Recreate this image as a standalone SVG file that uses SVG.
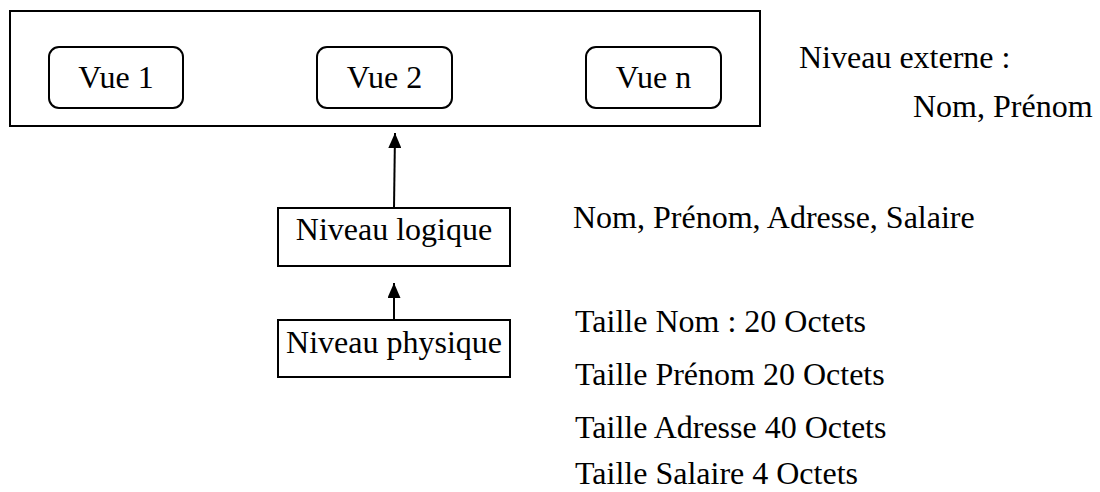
<svg xmlns="http://www.w3.org/2000/svg" width="1100" height="492" viewBox="0 0 1100 492">
<defs>
<marker id="ah" markerWidth="15" markerHeight="13" refX="15" refY="6.5" orient="auto" markerUnits="userSpaceOnUse" viewBox="0 0 15 13">
<path d="M0,0 L15,6.5 L0,13 Z" fill="#000"/>
</marker>
</defs>
<style>
text{font-family:"Liberation Serif","Times New Roman",serif;font-size:32px;fill:#000}
.box{fill:#fff;stroke:#000;stroke-width:2}
.c{text-anchor:middle}
.conn{stroke:#000;stroke-width:2;fill:none}
</style>
<rect width="1100" height="492" fill="#fff"/>
<g id="externe">
<rect class="box" x="10" y="11" width="750" height="115"/>
</g>
<g id="vue1">
<rect class="box" x="49" y="47" width="134" height="61" rx="10"/>
<text class="c" x="116" y="88">Vue 1</text>
</g>
<g id="vue2">
<rect class="box" x="317" y="47" width="135" height="61" rx="10"/>
<text class="c" x="384.5" y="88">Vue 2</text>
</g>
<g id="vuen">
<rect class="box" x="586" y="47" width="135" height="61" rx="10"/>
<text class="c" x="653.5" y="88">Vue n</text>
</g>
<g id="logique">
<rect class="box" x="278" y="208" width="232" height="58"/>
<text class="c" x="394" y="240">Niveau logique</text>
</g>
<g id="physique">
<rect class="box" x="278" y="320" width="232" height="57"/>
<text class="c" x="394" y="353">Niveau physique</text>
</g>
<g id="connectors">
<line class="conn" x1="394" y1="208" x2="395" y2="133" marker-end="url(#ah)"/>
<line class="conn" x1="394" y1="320" x2="394" y2="283" marker-end="url(#ah)"/>
</g>
<g id="labels">
<text x="799" y="68">Niveau externe :</text>
<text x="913" y="117">Nom, Prénom</text>
<text x="573" y="228">Nom, Prénom, Adresse, Salaire</text>
<text x="575" y="332">Taille Nom : 20 Octets</text>
<text x="575" y="385">Taille Prénom 20 Octets</text>
<text x="575" y="438">Taille Adresse 40 Octets</text>
<text x="575" y="484">Taille Salaire 4 Octets</text>
</g>
</svg>
